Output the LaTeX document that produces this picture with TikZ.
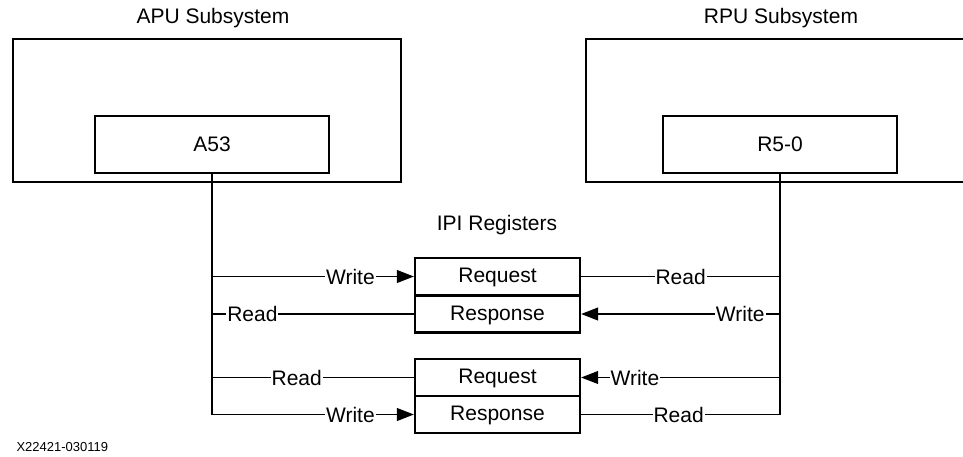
\documentclass[tikz,border=0pt]{standalone}
\usepackage{fontspec}
\setmainfont{Liberation Sans}
\usetikzlibrary{arrows.meta}
\begin{document}
\begin{tikzpicture}[x=1pt,y=-1pt,
  every node/.style={font=\fontsize{21}{25}\selectfont},
  outerbox/.style={draw,line width=2.6pt},
  corebox/.style={draw,line width=2.6pt,minimum width=234pt,minimum height=57pt,inner sep=0pt},
  regbox/.style={draw,line width=2.4pt,minimum width=165pt,minimum height=37pt,inner sep=0pt,text height=15pt,text depth=3pt},
  conn/.style={line width=1.1pt},
  arr/.style={conn,-{Triangle[length=17pt,width=13pt]}},
  lbl/.style={fill=white,inner sep=1pt}]
\useasboundingbox (0,0) rectangle (963,456);
% subsystems
\node (apuT) at (213,18) {APU Subsystem};
\node (rpuT) at (781,18) {RPU Subsystem};
\draw[outerbox] (13,39) rectangle (401,182);
\draw[outerbox] (966,39) -- (586,39) -- (586,182) -- (966,182);
\node[corebox] (a53) at (212,144.5) {A53};
\node[corebox] (r50) at (780,144.5) {R5-0};
% registers
\node (ipi) at (497,225) {IPI Registers};
\node[regbox] (req1) at (497.5,276.5) {Request};
\node[regbox] (resp1) at (497.5,314) {Response};
\node[regbox] (req2) at (497.5,377.5) {Request};
\node[regbox] (resp2) at (497.5,414.5) {Response};
% bus coordinates
\coordinate (l1) at (a53.south |- req1.west);
\coordinate (l2) at (a53.south |- resp1.west);
\coordinate (l3) at (a53.south |- req2.west);
\coordinate (l4) at (a53.south |- resp2.west);
\coordinate (r1) at (r50.south |- req1.east);
\coordinate (r2) at (r50.south |- resp1.east);
\coordinate (r3) at (r50.south |- req2.east);
\coordinate (r4) at (r50.south |- resp2.east);
\draw[conn] (a53.south) -- (l4);
\draw[conn] (r50.south) -- (r4);
% left side
\draw[arr] (l1) -- (req1.west) node[lbl,pos=0.686] {Write};
\draw[conn] (l2) -- (resp1.west) node[lbl,pos=0.2] {Read};
\draw[conn] (l3) -- (req2.west) node[lbl,pos=0.42] {Read};
\draw[arr] (l4) -- (resp2.west) node[lbl,pos=0.686] {Write};
% right side
\draw[conn] (req1.east) -- (r1) node[lbl,pos=0.5] {Read};
\draw[arr] (r2) -- (resp1.east) node[lbl,pos=0.2] {Write};
\draw[arr] (r3) -- (req2.east) node[lbl,pos=0.73] {Write};
\draw[conn] (resp2.east) -- (r4) node[lbl,pos=0.49] {Read};
% footnote
\node[font=\fontsize{13}{15}\selectfont,anchor=west] (fn) at (13,447) {X22421-030119};
\end{tikzpicture}
\end{document}
